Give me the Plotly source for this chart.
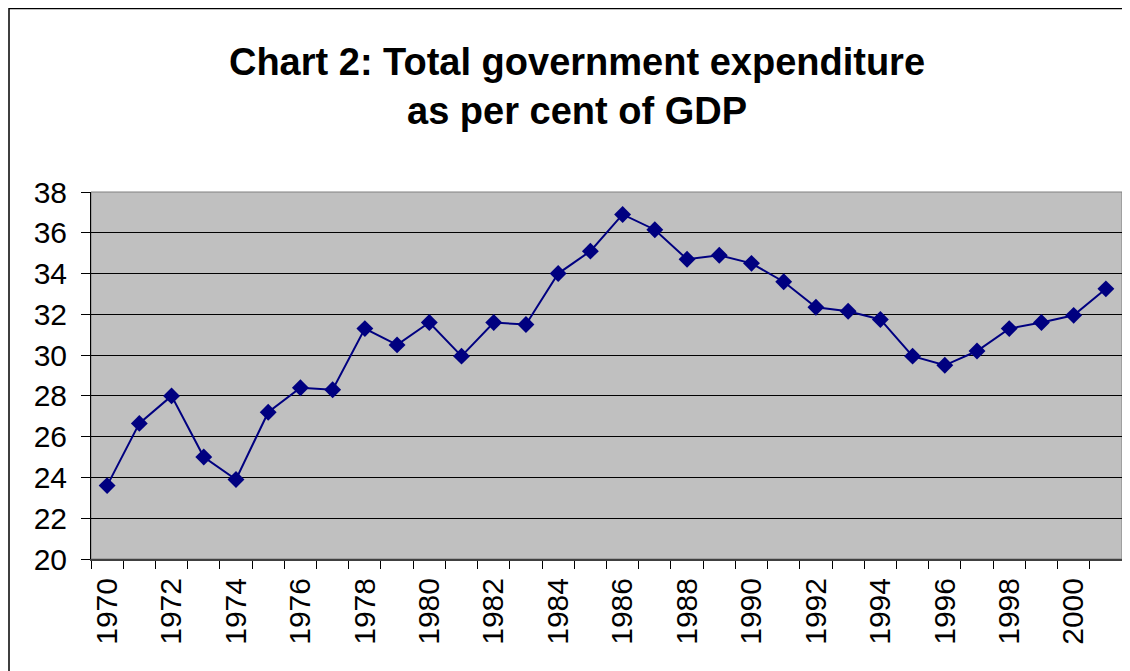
import plotly.graph_objects as go

years = list(range(1970, 2002))
expenditure = [23.6, 26.65, 28.0, 25.0, 23.9, 27.2, 28.4, 28.3, 31.3, 30.5,
               31.6, 29.95, 31.6, 31.5, 34.0, 35.1, 36.9, 36.15, 34.7, 34.9,
               34.5, 33.6, 32.35, 32.15, 31.75, 29.95, 29.5, 30.2, 31.3, 31.6,
               31.95, 33.25]
x_tick_labels = [str(y) for y in range(1970, 2001, 2)]
y_ticks = list(range(20, 39, 2))

FONT = "Liberation Sans, Arial, sans-serif"

# The page body adds an 8px offset; size the figure so the visible layout matches.
W, H = 1122, 663
ML, MR, MT, MB = 83, 8, 184, 112
PW, PH = W - ML - MR, H - MT - MB

fig = go.Figure()
fig.add_trace(go.Scatter(
    x=years, y=expenditure, mode="lines+markers",
    line=dict(color="#000080", width=2),
    marker=dict(symbol="diamond", size=13, color="#000080"),
    showlegend=False, cliponaxis=False,
))

fig.update_layout(
    width=W, height=H,
    margin=dict(l=ML, r=MR, t=MT, b=MB, autoexpand=False),
    paper_bgcolor="white", plot_bgcolor="#C0C0C0",
    title=dict(
        text="<b>Chart 2: Total government expenditure<br>as per cent of GDP</b>",
        font=dict(family=FONT, size=38, color="black"),
        x=(577 - 8) / W, xanchor="center", xref="container",
        y=1 - 67 / H, yanchor="top", yref="container",
    ),
    xaxis=dict(
        range=[1969.5, 2001.5],
        tickmode="array", tickvals=[int(t) for t in x_tick_labels], ticktext=x_tick_labels,
        tickangle=-90, ticks="", ticklen=0,
        tickfont=dict(family=FONT, size=30, color="black"),
        showgrid=False, zeroline=False,
        showline=True, linecolor="#404040", linewidth=2,
        minor=dict(ticks="outside", tick0=1969.5, dtick=1, ticklen=8,
                   tickcolor="black", tickwidth=1, showgrid=False),
        ticklabelstandoff=5, automargin=False,
    ),
    yaxis=dict(
        range=[20, 38], tickmode="array", tickvals=y_ticks,
        ticks="outside", ticklen=9, tickcolor="black",
        tickfont=dict(family=FONT, size=30, color="black"),
        showgrid=True, gridcolor="black", gridwidth=1,
        zeroline=False, showline=True, linecolor="black", linewidth=1,
        ticklabelstandoff=8, automargin=False,
    ),
    shapes=[
        dict(type="rect", xref="paper", yref="paper", x0=0, x1=1, y0=0, y1=1,
             line=dict(color="#808080", width=1), layer="below"),
        dict(type="rect", xref="paper", yref="paper",
             x0=(1 - ML) / PW, x1=1.2, y0=-0.6, y1=(PH + MT - 0.5) / PH,
             line=dict(color="black", width=1.5), fillcolor="rgba(0,0,0,0)"),
    ],
)

fig.write_html("out.html")
